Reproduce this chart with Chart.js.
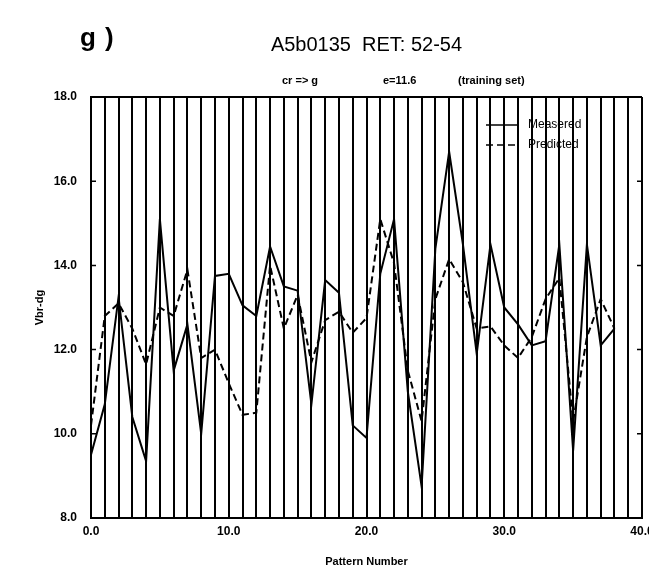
<!DOCTYPE html>
<html>
<head>
<meta charset="utf-8">
<script src="https://cdn.jsdelivr.net/npm/chart.js@4.4.0/dist/chart.umd.min.js"></script>
<style>
  html, body { margin: 0; padding: 0; background: #fff; overflow: hidden; width: 649px; height: 575px; }
  #marco { position: relative; width: 649px; height: 575px; overflow: hidden; }
  canvas { position: absolute; left: 0; top: 0; }
  .txt { position: absolute; font-family: "Liberation Sans", Arial, sans-serif; color: #000; white-space: nowrap; line-height: 1; }
  #panel { left: 80px; top: 24px; font-size: 26px; font-weight: bold; letter-spacing: 9px; }
  .sub { top: 75px; font-size: 11px; font-weight: bold; }
</style>
</head>
<body>
<div id="marco">
  <canvas id="grafico" width="680" height="575"></canvas>
  <div class="txt" id="panel">g)</div>
  <div class="txt sub" style="left:282px">cr =&gt; g</div>
  <div class="txt sub" style="left:383px">e=11.6</div>
  <div class="txt sub" style="left:458px">(training set)</div>
</div>
<script>
// Datos
const patron = [0, 1, 2, 3, 4, 5, 6, 7, 8, 9, 10, 11, 12, 13, 14, 15, 16, 17, 18, 19,
                20, 21, 22, 23, 24, 25, 26, 27, 28, 29, 30, 31, 32, 33, 34, 35, 36, 37, 38];
const medido = [9.5, 10.7, 13.25, 10.4, 9.35, 15.1, 11.5, 12.6, 10.0, 13.75,
                13.8, 13.05, 12.8, 14.45, 13.5, 13.4, 10.7, 13.65, 13.35, 10.2,
                9.9, 13.8, 15.1, 11.0, 8.75, 14.4, 16.7, 14.5, 11.9, 14.5,
                13.0, 12.6, 12.1, 12.2, 14.5, 9.6, 14.5, 12.1, 12.5];
const predicho = [10.2, 12.8, 13.1, 12.5, 11.65, 13.0, 12.8, 13.9, 11.8, 12.0,
                  11.2, 10.45, 10.5, 14.0, 12.5, 13.3, 11.7, 12.7, 12.9, 12.4,
                  12.75, 15.1, 14.05, 11.5, 10.3, 13.2, 14.15, 13.6, 12.5, 12.55,
                  12.1, 11.8, 12.3, 13.2, 13.7, 10.3, 12.3, 13.2, 12.5];
const yMin = 8, yMax = 18;
const xMin = 0, xMax = 40;

const fuente = '"Liberation Sans", Arial, sans-serif';

// Marcas cortas hacia dentro en los bordes izquierdo y derecho
const marcasInternas = {
    id: 'marcasInternas',
    afterDraw(chart) {
        const { ctx, chartArea: a, scales: { y } } = chart;
        ctx.save();
        ctx.strokeStyle = '#000';
        ctx.lineWidth = 1.5;
        y.ticks.forEach(t => {
            const py = y.getPixelForValue(t.value);
            ctx.beginPath();
            ctx.moveTo(a.left, py);
            ctx.lineTo(a.left + 5, py);
            ctx.moveTo(a.right, py);
            ctx.lineTo(a.right - 5, py);
            ctx.stroke();
        });
        ctx.restore();
    }
};

// Leyenda dentro del área del gráfico (arriba a la derecha)
const leyenda = {
    id: 'leyenda',
    afterDraw(chart) {
        const { ctx, chartArea: a } = chart;
        const x0 = a.right - 156, y0 = a.top + 28;
        chart.data.datasets.forEach((ds, i) => {
            const yy = y0 + i * 20;
            ctx.save();
            ctx.strokeStyle = ds.borderColor;
            ctx.lineWidth = 1.5;
            ctx.setLineDash(ds.borderDash || []);
            ctx.beginPath();
            ctx.moveTo(x0, yy);
            ctx.lineTo(x0 + 32, yy);
            ctx.stroke();
            ctx.setLineDash([]);
            ctx.fillStyle = '#000';
            ctx.font = '12px ' + fuente;
            ctx.textBaseline = 'middle';
            ctx.fillText(ds.label, x0 + 42, yy);
            ctx.restore();
        });
    }
};

const ctx = document.getElementById('grafico').getContext('2d');
new Chart(ctx, {
    type: 'line',
    data: {
        datasets: [
            {
                label: 'Measered',
                data: patron.map((p, i) => ({ x: p, y: medido[i] })),
                borderColor: '#000',
                borderWidth: 2,
                pointRadius: 0,
                tension: 0,
                fill: false
            },
            {
                label: 'Predicted',
                data: patron.map((p, i) => ({ x: p, y: predicho[i] })),
                borderColor: '#000',
                borderWidth: 2,
                borderDash: [7, 4],
                pointRadius: 0,
                tension: 0,
                fill: false
            }
        ]
    },
    options: {
        responsive: false,
        animation: false,
        layout: { padding: { left: 0, right: 38, top: 0, bottom: 0 } },
        plugins: {
            legend: { display: false },
            tooltip: { enabled: false },
            title: {
                display: true,
                text: 'A5b0135  RET: 52-54',
                fullSize: false,
                color: '#000',
                font: { family: fuente, size: 20, weight: 'normal' },
                padding: { top: 33, bottom: 40 }
            }
        },
        scales: {
            x: {
                type: 'linear',
                min: xMin,
                max: xMax,
                ticks: {
                    stepSize: 1,
                    autoSkip: false,
                    maxRotation: 0,
                    color: '#000',
                    padding: 6,
                    font: { family: fuente, size: 12, weight: 'bold' },
                    callback: v => (v % 10 === 0 ? v.toFixed(1) : '')
                },
                grid: { color: '#000', lineWidth: 2, drawTicks: false },
                border: { color: '#000', width: 2 },
                title: {
                    display: true,
                    text: 'Pattern Number',
                    color: '#000',
                    font: { family: fuente, size: 11, weight: 'bold' },
                    padding: { top: 0, bottom: 6 }
                },
                afterFit: s => { s.height = 57; }
            },
            y: {
                min: yMin,
                max: yMax,
                ticks: {
                    stepSize: 2,
                    color: '#000',
                    padding: 14,
                    font: { family: fuente, size: 12, weight: 'bold' },
                    callback: v => v.toFixed(1)
                },
                grid: {
                    color: c => (c.tick && c.tick.value === yMax ? '#000' : 'rgba(0,0,0,0)'),
                    lineWidth: 2,
                    drawTicks: false
                },
                border: { color: '#000', width: 2 },
                title: {
                    display: true,
                    text: 'Vbr-dg',
                    color: '#000',
                    font: { family: fuente, size: 11, weight: 'bold' },
                    padding: { top: 33, bottom: 0 }
                },
                afterFit: s => { s.width = 91; }
            }
        }
    },
    plugins: [marcasInternas, leyenda]
});
</script>
</body>
</html>
